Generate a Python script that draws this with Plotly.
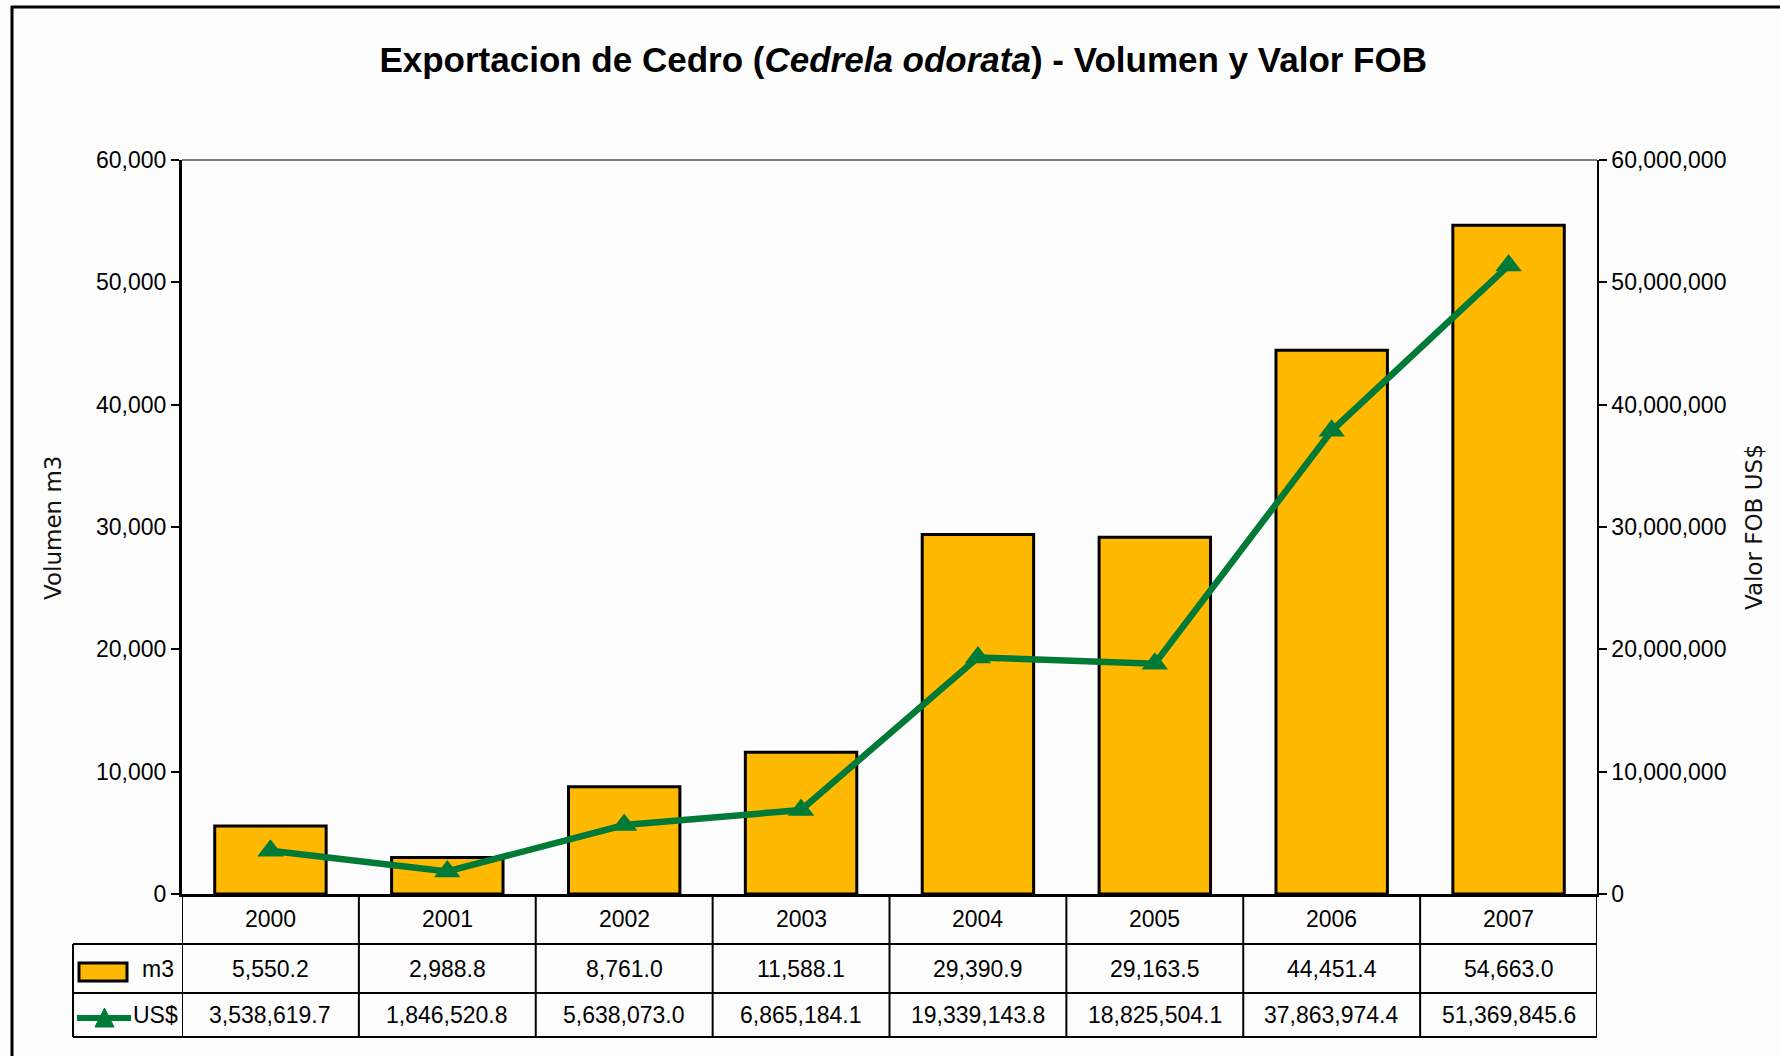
import plotly.graph_objects as go

# ---------------- data ----------------
years = ["2000", "2001", "2002", "2003", "2004", "2005", "2006", "2007"]
volumen_m3 = [5550.2, 2988.8, 8761.0, 11588.1, 29390.9, 29163.5, 44451.4, 54663.0]
valor_usd = [3538619.7, 1846520.8, 5638073.0, 6865184.1, 19339143.8, 18825504.1, 37863974.4, 51369845.6]
y1_ticks = [0, 10000, 20000, 30000, 40000, 50000, 60000]
y2_ticks = [0, 10000000, 20000000, 30000000, 40000000, 50000000, 60000000]

# ---------------- style ----------------
W, H = 1780, 1056
L, R, T, B = 182, 1597, 160, 894
BAR = "#FFB900"
GREEN = "#007A36"
FONT = "Liberation Sans, Arial, sans-serif"
BG = "#fdfdfd"


def px(xp):
    return (xp - L) / (R - L)


def py(yp):
    return (B - yp) / (B - T)


fig = go.Figure()
fig.add_trace(go.Bar(
    x=years, y=volumen_m3, name="m3",
    marker=dict(color=BAR, line=dict(color="black", width=3)),
    yaxis="y",
))
fig.add_trace(go.Scatter(
    x=years, y=valor_usd, name="US$", mode="lines+markers",
    line=dict(color=GREEN, width=6.5),
    marker=dict(symbol="triangle-up", size=23, color=GREEN),
    yaxis="y2", cliponaxis=False,
))

shapes = []
annotations = []
n = len(years)

# top border of plot area
shapes.append(dict(type="line", xref="paper", yref="paper", x0=0, x1=1, y0=1, y1=1,
                   line=dict(color="black", width=1)))
# outer frame (top and left)
shapes.append(dict(type="line", xref="paper", yref="paper", x0=px(11), x1=px(W), y0=py(7), y1=py(7),
                   line=dict(color="black", width=3)))
shapes.append(dict(type="line", xref="paper", yref="paper", x0=px(12), x1=px(12), y0=py(6), y1=py(H),
                   line=dict(color="black", width=3)))

# data table
row_year = (894 + 944) / 2
row_m3 = (944 + 993) / 2
row_usd = (993 + 1037) / 2
for yb in (944, 993, 1037):
    shapes.append(dict(type="line", xref="paper", yref="paper", x0=px(73), x1=1, y0=py(yb), y1=py(yb),
                       line=dict(color="black", width=2)))
for i in range(n + 1):
    shapes.append(dict(type="line", xref="x", yref="paper", x0=i - 0.5, x1=i - 0.5,
                       y0=py(894), y1=py(1037), line=dict(color="black", width=2)))
shapes.append(dict(type="line", xref="paper", yref="paper", x0=px(73), x1=px(73),
                   y0=py(944), y1=py(1037), line=dict(color="black", width=2)))

cell_font = dict(family=FONT, size=23, color="black")
for i, yr in enumerate(years):
    annotations.append(dict(x=i, y=py(row_year), xref="x", yref="paper", text=yr,
                            showarrow=False, font=cell_font, xanchor="center", yanchor="middle"))
    annotations.append(dict(x=i, y=py(row_m3), xref="x", yref="paper", text=f"{volumen_m3[i]:,.1f}",
                            showarrow=False, font=cell_font, xanchor="center", yanchor="middle"))
    annotations.append(dict(x=i, y=py(row_usd), xref="x", yref="paper", text=f"{valor_usd[i]:,.1f}",
                            showarrow=False, font=cell_font, xanchor="center", yanchor="middle"))

# legend keys in table
shapes.append(dict(type="rect", xref="paper", yref="paper", x0=px(79), x1=px(127), y0=py(981), y1=py(963),
                   fillcolor=BAR, line=dict(color="black", width=3)))
shapes.append(dict(type="line", xref="paper", yref="paper", x0=px(77), x1=px(131), y0=py(1018), y1=py(1018),
                   line=dict(color=GREEN, width=6)))
tri = f"M {px(95)} {py(1027)} L {px(114)} {py(1027)} L {px(104.5)} {py(1008)} Z"
shapes.append(dict(type="path", xref="paper", yref="paper", path=tri, fillcolor=GREEN,
                   line=dict(color=GREEN, width=1)))
annotations.append(dict(x=px(140), y=py(row_m3), xref="paper", yref="paper", text="m3",
                        showarrow=False, font=cell_font, xanchor="left", yanchor="middle"))
annotations.append(dict(x=px(131), y=py(row_usd), xref="paper", yref="paper", text="US$",
                        showarrow=False, font=cell_font, xanchor="left", yanchor="middle"))

# axis titles
ax_font = dict(family="DejaVu Sans, sans-serif", size=23, color="#111")
annotations.append(dict(x=px(53), y=py(528), xref="paper", yref="paper", text="Volumen m3",
                        textangle=-90, showarrow=False, font=ax_font, xanchor="center", yanchor="middle"))
annotations.append(dict(x=px(1754), y=py(527), xref="paper", yref="paper", text="Valor FOB US$",
                        textangle=-90, showarrow=False, font=ax_font, xanchor="center", yanchor="middle"))

fig.update_layout(
    width=W, height=H,
    margin=dict(l=L, r=W - R, t=T, b=H - B, autoexpand=False),
    paper_bgcolor=BG, plot_bgcolor=BG,
    showlegend=False,
    bargap=0.37,
    title=dict(
        text="<b>Exportacion de Cedro (<i>Cedrela odorata</i>) - Volumen y Valor FOB</b>",
        x=px(900), xanchor="center", y=1 - 60 / H, yanchor="middle",
        font=dict(family=FONT, size=35, color="black"),
    ),
    xaxis=dict(
        type="category", range=[-0.5, n - 0.5], showticklabels=False, ticks="",
        showline=True, linecolor="black", linewidth=3, showgrid=False, zeroline=False,
    ),
    yaxis=dict(
        range=[0, 60000], tickvals=y1_ticks, tickformat=",", showgrid=False, zeroline=False,
        showline=True, linecolor="black", linewidth=3, ticks="outside", ticklen=8, tickwidth=2,
        tickcolor="black", tickfont=dict(family=FONT, size=23, color="black"),
    ),
    yaxis2=dict(
        range=[0, 60000000], tickvals=y2_ticks, tickformat=",", overlaying="y", side="right",
        showgrid=False, zeroline=False, showline=True, linecolor="black", linewidth=1.5,
        ticks="outside", ticklen=8, tickwidth=2, tickcolor="black",
        tickfont=dict(family=FONT, size=23, color="black"),
    ),
    shapes=shapes,
    annotations=annotations,
)

fig.write_html("out.html", config={"displayModeBar": False},
               post_script="document.body.style.margin='0px';")
